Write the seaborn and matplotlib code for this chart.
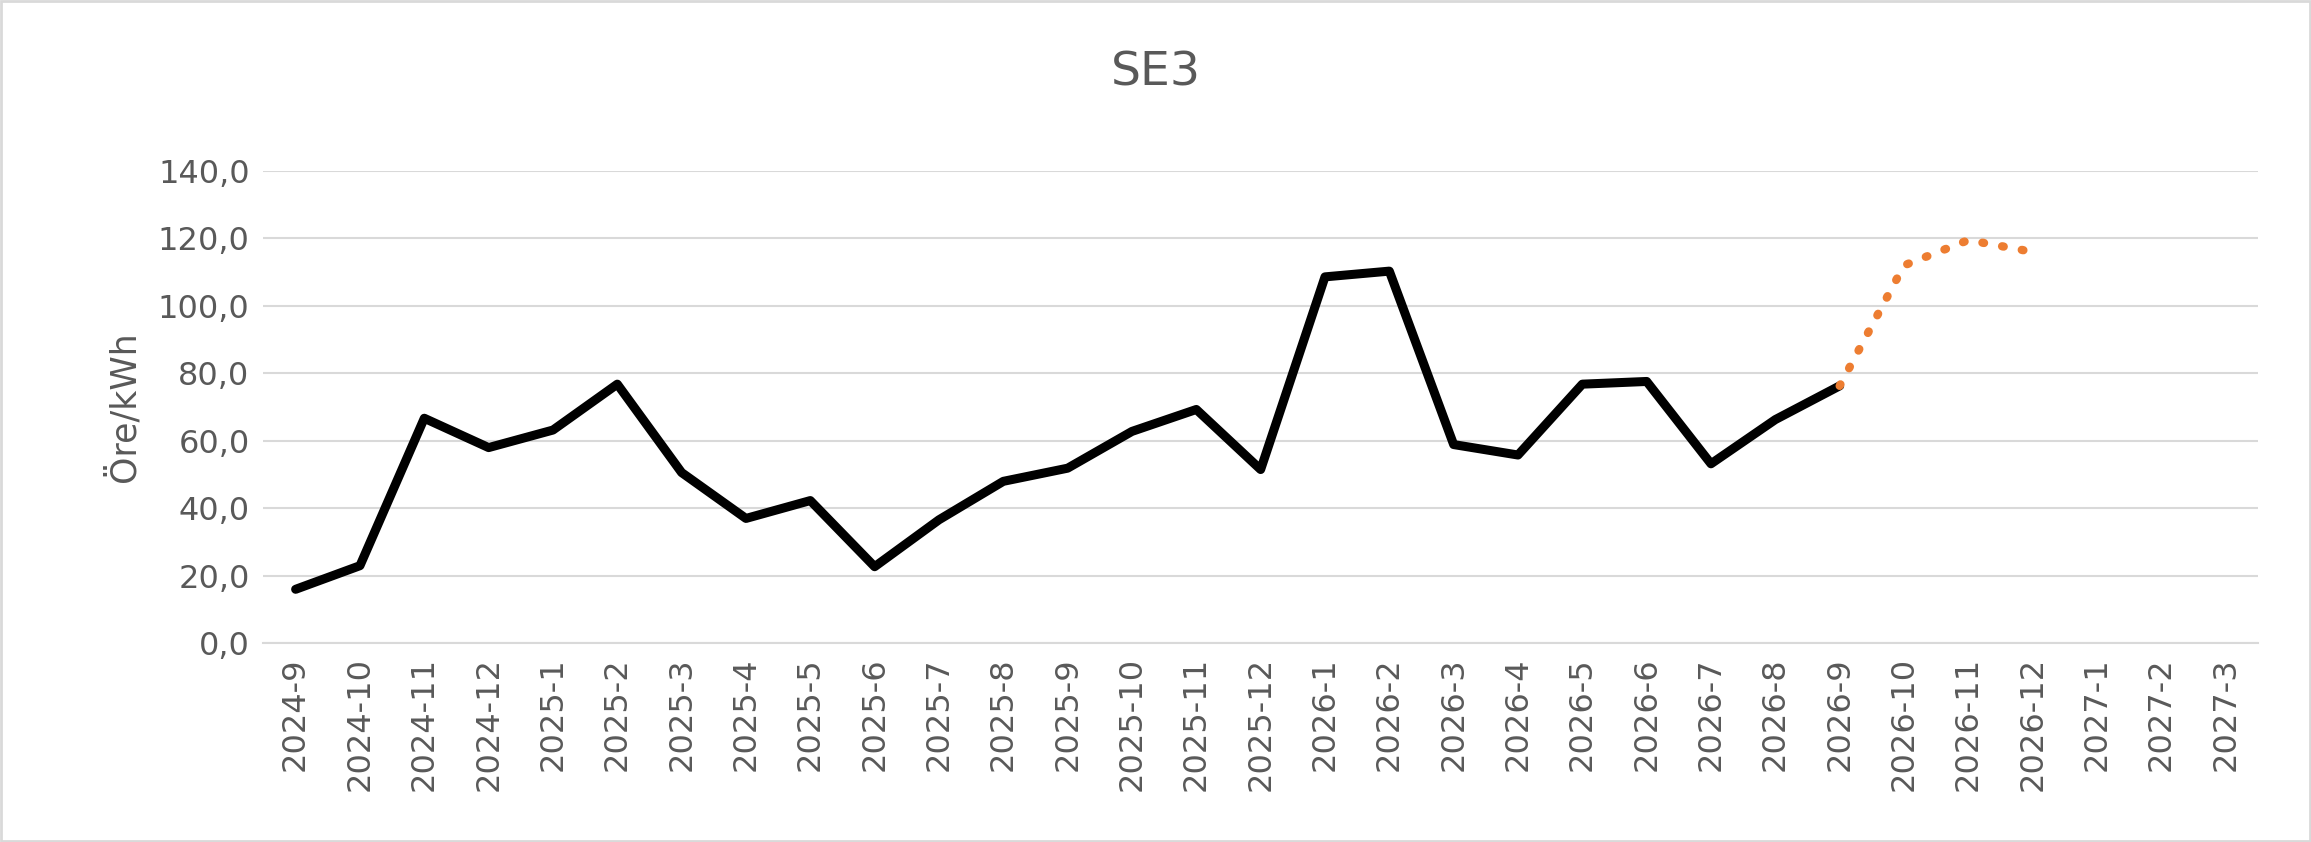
import numpy as np
import pandas as pd
import matplotlib.pyplot as plt
import seaborn as sns

months = ['2024-9', '2024-10', '2024-11', '2024-12', '2025-1', '2025-2', '2025-3', '2025-4',
          '2025-5', '2025-6', '2025-7', '2025-8', '2025-9', '2025-10', '2025-11', '2025-12',
          '2026-1', '2026-2', '2026-3', '2026-4', '2026-5', '2026-6', '2026-7', '2026-8',
          '2026-9', '2026-10', '2026-11', '2026-12', '2027-1', '2027-2', '2027-3']
actual = [16.0, 23.0, 66.7, 58.0, 63.2, 76.8, 50.6, 37.0, 42.3, 22.7, 36.6, 48.0, 51.9, 62.8,
          69.3, 51.5, 108.6, 110.3, 58.9, 55.8, 76.8, 77.6, 53.2, 66.3, 76.3]
forecast = [76.3, 112.0, 119.5, 116.0]

n = len(months)
df = pd.DataFrame({
    'Month': months,
    'x': np.arange(n),
    'Actual': actual + [np.nan] * (n - len(actual)),
    'Forecast': [np.nan] * (len(actual) - 1) + forecast + [np.nan] * (n - len(actual) - len(forecast) + 1),
})

sns.set_theme(style='white')
grey = '#595959'
fig, ax = plt.subplots(figsize=(23.11, 8.42), dpi=100)
fig.subplots_adjust(left=0.114, right=0.977, top=0.797, bottom=0.236)

sns.lineplot(data=df, x='x', y='Actual', ax=ax, color='black', linewidth=6.5)
sns.lineplot(data=df, x='x', y='Forecast', ax=ax, color='#ED7D31', linewidth=6,
             linestyle=(0, (0.2, 2.2)), dash_capstyle='round')

ax.set_xlim(-0.5, n - 0.5)
ax.set_ylim(0, 140)
ax.set_yticks(np.arange(0, 141, 20))
ax.set_yticklabels([f'{v},0' for v in range(0, 141, 20)])
ax.set_xticks(np.arange(n))
ax.set_xticklabels(months, rotation=90)
ax.tick_params(axis='both', labelsize=23, colors=grey, length=0, pad=10)
ax.yaxis.grid(True, color='#D9D9D9', linewidth=1.5)
for s in ['top', 'right', 'left']:
    ax.spines[s].set_visible(False)
ax.spines['bottom'].set_color('#D9D9D9')
ax.spines['bottom'].set_linewidth(1.5)
ax.set_xlabel('')
ax.set_ylabel('Öre/kWh', fontsize=25, color=grey, labelpad=12)
fig.suptitle('SE3', fontsize=34, color=grey, y=0.94)
fig.patches.append(plt.Rectangle((0.0005, 0.001), 0.999, 0.998, transform=fig.transFigure,
                                 fill=False, edgecolor='#D9D9D9', linewidth=2))

fig.savefig('out.png', dpi=100)
